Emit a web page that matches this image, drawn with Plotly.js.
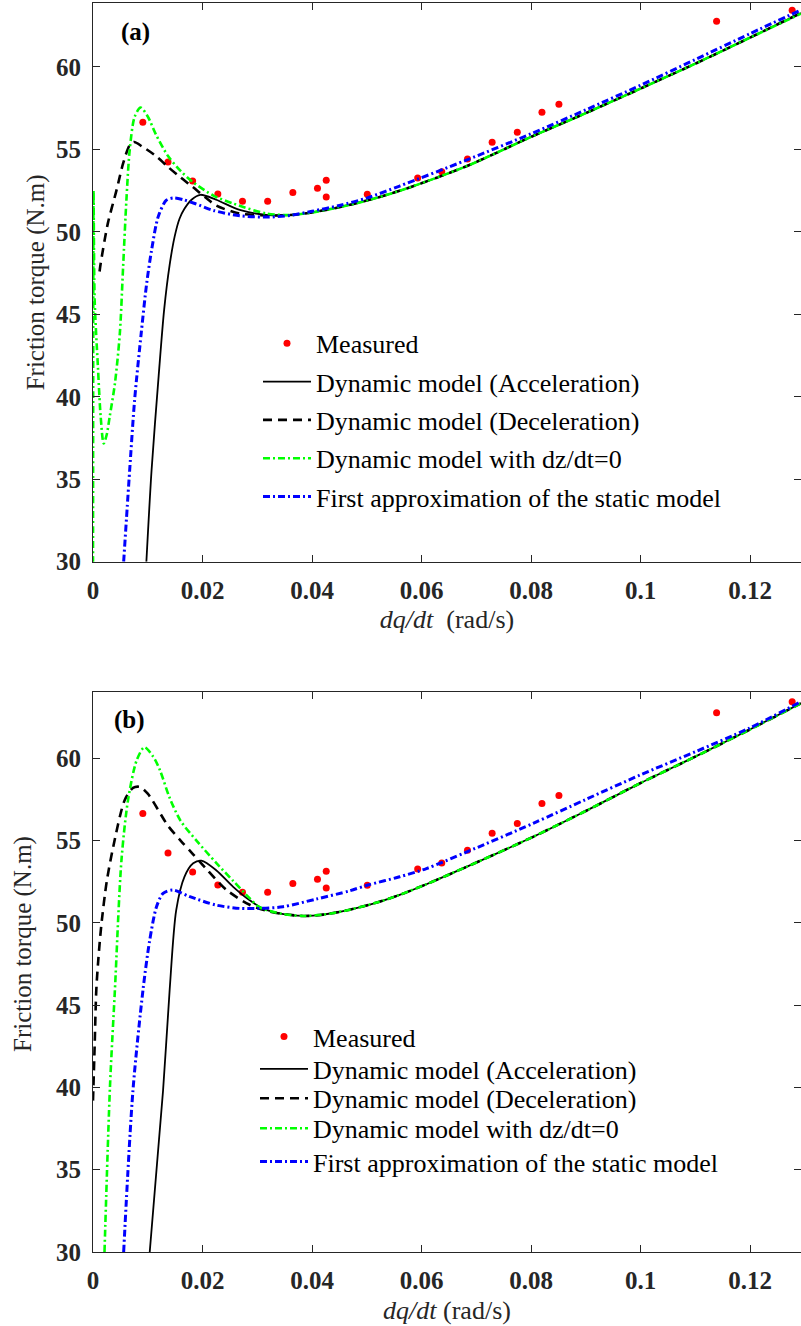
<!DOCTYPE html>
<html>
<head>
<meta charset="utf-8">
<script src="https://cdn.plot.ly/plotly-3.0.1.min.js"></script>
<style>html,body{margin:0;padding:0;background:#fff}#chart{width:801px;height:1326px}</style>
</head>
<body>
<div id="chart"></div>
<script>
// ---------------- data ----------------
const seriesNames = ["Measured", "Dynamic model (Acceleration)", "Dynamic model (Deceleration)",
  "Dynamic model with dz/dt=0", "First approximation of the static model"];

const measuredX = [0.0091, 0.0137, 0.0182, 0.0228, 0.0273, 0.0319, 0.0365, 0.0410, 0.0426, 0.0426,
  0.0501, 0.0593, 0.0637, 0.0684, 0.0729, 0.0775, 0.0820, 0.0851, 0.1139, 0.1277];
const measuredY = [56.65, 54.24, 53.09, 52.30, 51.86, 51.86, 52.39, 52.65, 53.13, 52.12,
  52.29, 53.27, 53.64, 54.42, 55.44, 56.04, 57.25, 57.74, 62.77, 63.44];

// panel (a)
const accAX = [0.00975, 0.0107, 0.0120, 0.0130, 0.0140, 0.0149, 0.0158, 0.0167, 0.0180, 0.0196, 0.0225,
  0.0268, 0.032, 0.036, 0.040, 0.045, 0.050, 0.056, 0.0682, 0.080, 0.090, 0.100, 0.110, 0.120, 0.1293];
const accAY = [30, 35.56, 41.3, 45.3, 48.0, 49.7, 50.8, 51.4, 51.95, 52.25, 51.95,
  51.33, 51.02, 51.02, 51.18, 51.5, 51.9, 52.49, 53.98, 55.76, 57.2, 58.69, 60.2, 61.78, 63.27];

const decAX = [0.0012, 0.0014, 0.0027, 0.0043, 0.0055, 0.0067, 0.0075, 0.0091, 0.0115, 0.0137, 0.0160,
  0.0182, 0.0205, 0.0225, 0.0268, 0.032, 0.036, 0.040, 0.045, 0.050, 0.056, 0.0682, 0.080, 0.090,
  0.100, 0.110, 0.120, 0.1293];
const decAY = [47.6, 48.08, 50.5, 52.53, 54.15, 55.25, 55.45, 55.15, 54.6, 53.94, 53.3,
  52.73, 52.1, 51.6, 51.11, 51.0, 51.02, 51.18, 51.5, 51.9, 52.49, 53.98, 55.76, 57.2,
  58.69, 60.2, 61.78, 63.27];

const zeroAX = [0, 0.00005, 0.0001, 0.0003, 0.0009, 0.0014, 0.00195, 0.0025, 0.00305, 0.004, 0.0049,
  0.0055, 0.0061, 0.0067, 0.0076, 0.0087, 0.0100, 0.0115, 0.0137, 0.016, 0.0182, 0.022, 0.0256,
  0.0317, 0.036, 0.040, 0.045, 0.050, 0.056, 0.0682, 0.080, 0.090, 0.100, 0.110, 0.120, 0.1293];
const zeroAY = [29, 45, 52.5, 45.9, 41.8, 38.8, 37.17, 37.7, 38.8, 40.8, 43.84,
  47.88, 51.92, 54.95, 56.97, 57.54, 57.0, 55.9, 54.6, 53.7, 53.03, 52.2, 51.72,
  51.11, 51.02, 51.18, 51.5, 51.9, 52.49, 53.98, 55.76, 57.2, 58.69, 60.2, 61.78, 63.23];

const staticAX = [0.0056, 0.0067, 0.0076, 0.0088, 0.0098, 0.0107, 0.0119, 0.0134, 0.0148, 0.0165,
  0.0186, 0.022, 0.0268, 0.032, 0.036, 0.040, 0.045, 0.050, 0.056, 0.0682, 0.080, 0.090, 0.100,
  0.110, 0.120, 0.1293];
const staticAY = [30, 35.56, 39.8, 43.84, 46.87, 48.89, 50.91, 51.92, 52.06, 51.95,
  51.72, 51.3, 50.98, 50.9, 51.0, 51.25, 51.6, 52.05, 52.78, 54.35, 55.95, 57.4, 58.89,
  60.45, 62.02, 63.46];

// panel (b)
const accBX = [0.01036, 0.0128, 0.0140, 0.0152, 0.0167, 0.0183, 0.0198, 0.0225, 0.0256, 0.0285, 0.031,
  0.0345, 0.0384, 0.042, 0.0469, 0.052, 0.056, 0.0609, 0.0682, 0.0804, 0.090, 0.0999, 0.110, 0.1198, 0.1293];
const accBY = [30, 39.83, 45.92, 50.78, 52.8, 53.62, 53.78, 53.2, 52.19, 51.4, 50.88,
  50.55, 50.42, 50.5, 50.8, 51.25, 51.7, 52.35, 53.4, 55.23, 56.8, 58.48, 60.1, 61.72, 63.34];

const decBX = [0, 0.0003, 0.0006, 0.0010, 0.0015, 0.0025, 0.0037, 0.0058, 0.0073, 0.0085, 0.0100,
  0.0137, 0.0160, 0.0182, 0.0205, 0.0244, 0.0286, 0.0317, 0.0345, 0.0384, 0.042, 0.0469, 0.052, 0.056,
  0.0609, 0.0682, 0.0804, 0.090, 0.0999, 0.110, 0.1198, 0.1293];
const decBY = [39.2, 42.5, 45.9, 47.9, 49.8, 52.5, 54.63, 57.47, 58.2, 58.27, 57.85,
  55.9, 55.0, 54.2, 53.35, 52.0, 51.1, 50.74, 50.55, 50.42, 50.5, 50.8, 51.25, 51.7,
  52.35, 53.4, 55.23, 56.8, 58.48, 60.1, 61.72, 63.34];

const zeroBX = [0.0021, 0.0031, 0.0040, 0.0052, 0.0064, 0.0080, 0.0094, 0.0110, 0.0122, 0.0140, 0.0160,
  0.0189, 0.0225, 0.0256, 0.0286, 0.0304, 0.0345, 0.0384, 0.042, 0.0469, 0.052, 0.056, 0.0609, 0.0682,
  0.0804, 0.090, 0.0999, 0.110, 0.1198, 0.1293];
const zeroBY = [30, 40.04, 45.92, 53.82, 57.47, 59.9, 60.67, 60.1, 59.3, 57.6, 56.2,
  55.0, 53.65, 52.55, 51.5, 50.95, 50.55, 50.42, 50.5, 50.8, 51.25, 51.7, 52.35, 53.4,
  55.23, 56.8, 58.48, 60.1, 61.72, 63.34];

const staticBX = [0.0056, 0.0073, 0.00913, 0.01036, 0.0116, 0.0128, 0.0146, 0.0177, 0.0225, 0.0268,
  0.0304, 0.0347, 0.0408, 0.0469, 0.0502, 0.056, 0.0609, 0.0682, 0.0804, 0.090, 0.0999, 0.110, 0.1198, 0.1293];
const staticBY = [30, 39.83, 45.92, 48.95, 50.98, 51.79, 52.0, 51.59, 51.08, 50.88,
  50.88, 50.98, 51.45, 51.95, 52.3, 52.8, 53.3, 54.3, 56.05, 57.5, 58.98, 60.4, 61.82, 63.44];

const xTickVals = [0, 0.02, 0.04, 0.06, 0.08, 0.1, 0.12];
const xTickText = ["0", "0.02", "0.04", "0.06", "0.08", "0.1", "0.12"];
const yTickVals = [30, 35, 40, 45, 50, 55, 60];
const yTickText = ["30", "35", "40", "45", "50", "55", "60"];

// ---------------- styling ----------------
const FONT = "\"Liberation Serif\", \"Times New Roman\", Times, serif";
const AX = "#262626";
const ML = 93, MR = 0, MT = 3, MB = 74, W = 801, H = 1326;
const PW = W - ML - MR, PH = H - MT - MB;
const px2x = p => (p - ML) / PW;
const px2y = p => 1 - (p - MT) / PH;

const lineStyles = [
  null,
  {color: "#000000", width: 1.8, dash: "solid"},
  {color: "#000000", width: 2.6, dash: "9px,6px"},
  {color: "#00FF00", width: 2.6, dash: "7px,3px,2px,3px"},
  {color: "#0000FF", width: 3.0, dash: "7px,3px,2px,3px"}
];

function curve(x, y, idx, xa, ya, legendId) {
  return {
    type: "scatter", mode: "lines", x: x, y: y, name: seriesNames[idx],
    xaxis: xa, yaxis: ya, legend: legendId,
    line: Object.assign({shape: "spline", smoothing: 0.8}, lineStyles[idx])
  };
}
function points(xa, ya, legendId) {
  return {
    type: "scatter", mode: "markers", x: measuredX, y: measuredY, name: seriesNames[0],
    xaxis: xa, yaxis: ya, legend: legendId,
    marker: {color: "#FF0000", size: 7, line: {width: 0}}
  };
}

const traces = [
  points("x", "y", "legend"),
  curve(accAX, accAY, 1, "x", "y", "legend2"),
  curve(decAX, decAY, 2, "x", "y", "legend3"),
  curve(zeroAX, zeroAY, 3, "x", "y", "legend4"),
  curve(staticAX, staticAY, 4, "x", "y", "legend5"),
  points("x2", "y2", "legend6"),
  curve(accBX, accBY, 1, "x2", "y2", "legend7"),
  curve(decBX, decBY, 2, "x2", "y2", "legend8"),
  curve(zeroBX, zeroBY, 3, "x2", "y2", "legend9"),
  curve(staticBX, staticBY, 4, "x2", "y2", "legend10")
];

function xaxis(anchor, titleText) {
  return {
    anchor: anchor, domain: [0, 1], range: [0, PW / 5475],
    tickvals: xTickVals, ticktext: xTickText,
    ticks: "inside", ticklen: 7, tickwidth: 1, tickcolor: AX,
    showline: true, linecolor: AX, linewidth: 1, mirror: "ticks",
    showgrid: false, zeroline: false,
    tickfont: {family: FONT, size: 25, color: AX, weight: "bold"},
    ticklabelstandoff: 6,
    title: {text: titleText, font: {family: FONT, size: 26, color: AX}, standoff: 7}
  };
}
function yaxis(topPx, botPx, anchor, range, titleText) {
  return {
    anchor: anchor, domain: [px2y(botPx), px2y(topPx)], range: range,
    tickvals: yTickVals, ticktext: yTickText,
    ticks: "inside", ticklen: 7, tickwidth: 1, tickcolor: AX,
    showline: true, linecolor: AX, linewidth: 1, mirror: "ticks",
    showgrid: false, zeroline: false,
    tickfont: {family: FONT, size: 25, color: AX, weight: "bold"},
    ticklabelstandoff: 6,
    title: {text: titleText, font: {family: FONT, size: 25, color: AX}, standoff: 4}
  };
}

function leg(rowPx, leftPx) {
  return {
    x: px2x(leftPx), xanchor: "left", y: px2y(rowPx), yanchor: "middle",
    bgcolor: "rgba(0,0,0,0)", borderwidth: 0, itemwidth: 48,
    font: {family: FONT, size: 26, color: "#000"}
  };
}

const rowsA = [343.3, 381.7, 420, 458.3, 496.7];
const rowsB = [1036.7, 1069, 1098.3, 1128.3, 1161.7];

const layout = {
  width: W, height: H,
  margin: {l: ML, r: MR, t: MT, b: MB, pad: 0},
  paper_bgcolor: "#fff", plot_bgcolor: "#fff",
  font: {family: FONT, color: "#000"},
  showlegend: true,
  xaxis: xaxis("y", "<i>dq/dt</i>&nbsp; (rad/s)"),
  yaxis: yaxis(2.7, 561.7, "x", [30, 63.88], "Friction torque (N.m)"),
  xaxis2: xaxis("y2", "<i>dq/dt</i> (rad/s)"),
  yaxis2: yaxis(692, 1252.3, "x2", [30, 64.03], ""),
  annotations: [
    {text: "<b>(a)</b>", xref: "paper", yref: "paper", x: px2x(119), y: px2y(31.7),
     xanchor: "left", yanchor: "middle", showarrow: false, font: {family: FONT, size: 25, color: "#000"}},
    {text: "<b>(b)</b>", xref: "paper", yref: "paper", x: px2x(112), y: px2y(720),
     xanchor: "left", yanchor: "middle", showarrow: false, font: {family: FONT, size: 25, color: "#000"}},
    {text: "Friction torque (N.m)", xref: "paper", yref: "paper", x: px2x(23), y: px2y(944),
     xanchor: "center", yanchor: "middle", textangle: -90, showarrow: false,
     font: {family: FONT, size: 25, color: AX}}
  ]
};
const legIds = ["legend", "legend2", "legend3", "legend4", "legend5",
  "legend6", "legend7", "legend8", "legend9", "legend10"];
for (let i = 0; i < 5; i++) layout[legIds[i]] = leg(rowsA[i], 258);
for (let i = 0; i < 5; i++) layout[legIds[i + 5]] = leg(rowsB[i], 255);

Plotly.newPlot("chart", traces, layout, {displayModeBar: false, staticPlot: true});
</script>
</body>
</html>
